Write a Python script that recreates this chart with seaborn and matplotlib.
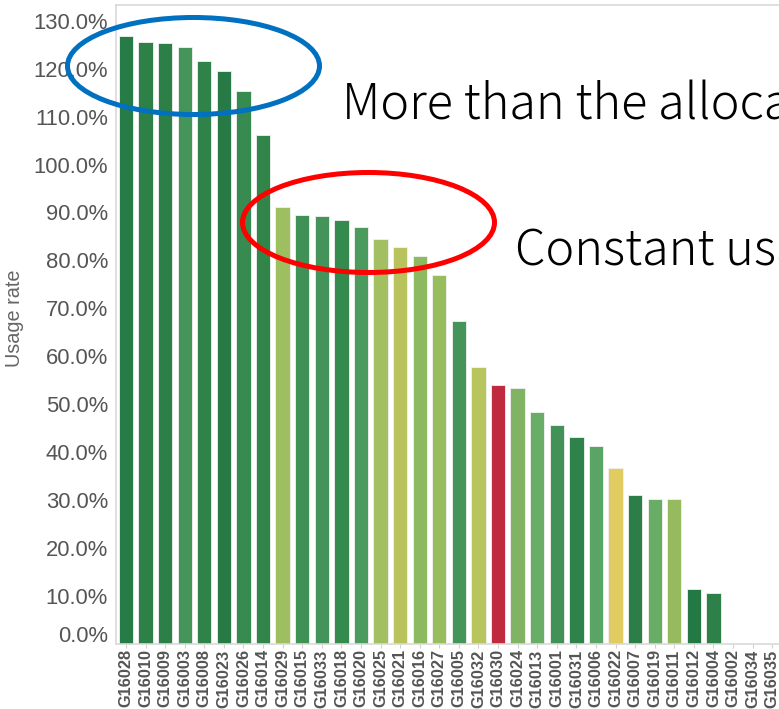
import matplotlib
matplotlib.use("Agg")
import matplotlib.pyplot as plt
import matplotlib.transforms as mtransforms
from matplotlib.patches import Ellipse
from matplotlib.ticker import PercentFormatter, FixedLocator
import seaborn as sns
import pandas as pd

# Usage rate per group, sorted descending
groups = ["G16028", "G16010", "G16009", "G16003", "G16008", "G16023", "G16026",
          "G16014", "G16029", "G16015", "G16033", "G16018", "G16020", "G16025",
          "G16021", "G16016", "G16027", "G16005", "G16032", "G16030", "G16024",
          "G16013", "G16001", "G16031", "G16006", "G16022", "G16007", "G16019",
          "G16011", "G16012", "G16004", "G16002", "G16034", "G16035"]
usage_pct = [126.9, 125.5, 125.3, 124.6, 121.6, 119.6, 115.3, 106.1, 91.1, 89.4,
             89.2, 88.4, 86.9, 84.5, 82.8, 81.0, 76.9, 67.4, 57.8, 53.9, 53.4,
             48.3, 45.7, 43.2, 41.3, 36.7, 31.1, 30.1, 30.1, 11.4, 10.5, 0.0,
             0.0, 0.0]
bar_colors = ["#277B46", "#2E8049", "#2D7F48", "#45955A", "#2F824A", "#277A45",
              "#378A50", "#328549", "#9DBF5F", "#3F9156", "#43935A", "#358A4E",
              "#4B9B5E", "#A2C062", "#B8C35E", "#8DBA60", "#98BD5F", "#45955A",
              "#B8C45D", "#BF2A3F", "#80B363", "#6AAD66", "#429258", "#2F834A",
              "#5AA465", "#E0CC60", "#2C7E48", "#68AC66", "#95BB5E", "#237843",
              "#2E8049", "#2E8049", "#2E8049", "#2E8049"]

df = pd.DataFrame({"group": groups, "usage": usage_pct})
palette = dict(zip(groups, bar_colors))

W, H = 779, 709
fig = plt.figure(figsize=(W / 100, H / 100), dpi=100)
ax = fig.add_axes([116 / W, (H - 643.5) / H, (782 - 116) / W, (643.5 - 5) / H])

sns.barplot(data=df, x="group", y="usage", hue="group", palette=palette,
            legend=False, width=0.73, saturation=1, ax=ax,
            edgecolor="#f2f2f2", linewidth=0.6)

ax.set_xlim(-0.51, 33.5)
ax.set_ylim(0, 133.3)
ax.yaxis.set_major_locator(FixedLocator(list(range(0, 131, 10))))
ax.yaxis.set_major_formatter(PercentFormatter(decimals=1))

label_font = "Liberation Sans"
ax.tick_params(axis="y", length=0, pad=5.8, labelsize=15.8, labelcolor="#555555")
ax.tick_params(axis="x", length=3, width=0.8, color="#d0d0d0", pad=1.2,
               labelsize=11.8, labelcolor="#555555", rotation=90)
for lab in ax.get_yticklabels():
    lab.set_fontfamily(label_font)
for lab in ax.get_xticklabels():
    lab.set_fontfamily(label_font)
    lab.set_fontweight("bold")

# lift the 0.0% label so it sits above the baseline
zero_lab = ax.get_yticklabels()[0]
zero_lab.set_transform(zero_lab.get_transform()
                       + mtransforms.ScaledTranslation(0, 10 / 100, fig.dpi_scale_trans))

ax.set_xlabel("")
ax.set_ylabel("")
fig.text(15 / W, 1 - 318 / H, "Usage rate", rotation=90, ha="center", va="center",
         fontsize=14.3, color="#666666", family=label_font)

for side in ["left", "top", "bottom"]:
    ax.spines[side].set_color("#d9d9d9")
    ax.spines[side].set_linewidth(1.2)
ax.spines["right"].set_visible(False)
ax.grid(False)
ax.set_facecolor("white")

# callout ellipses
fig.add_artist(Ellipse((193.5 / W, 1 - 66 / H), 252 / W, 97 / H,
                       transform=fig.transFigure, fill=False,
                       edgecolor="#0070C0", linewidth=3.6))
fig.add_artist(Ellipse((368.5 / W, 1 - 222.5 / H), 252 / W, 100 / H,
                       transform=fig.transFigure, fill=False,
                       edgecolor="#FF0000", linewidth=3.6))

note_font = ["Noto Sans CJK JP", "DejaVu Sans"]
fig.text(342 / W, 1 - 120 / H, "More than the allocated amount", ha="left",
         va="baseline", fontsize=35, fontweight="light", color="black",
         family=note_font)
fig.text(515 / W, 1 - 265 / H, "Constant usage", ha="left",
         va="baseline", fontsize=35, fontweight="light", color="black",
         family=note_font)

fig.savefig("out.png", dpi=100)
